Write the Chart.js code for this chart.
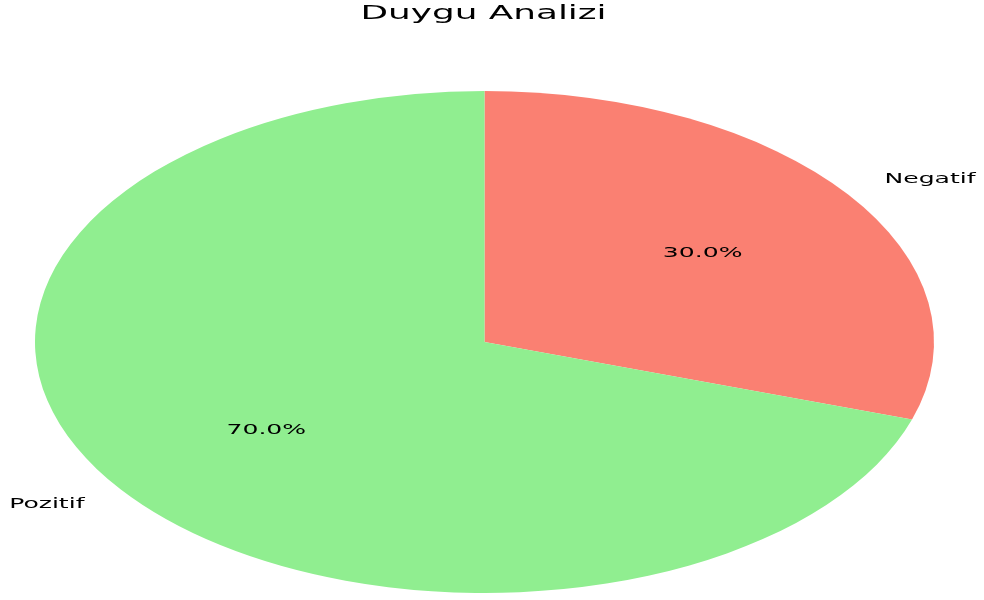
<!DOCTYPE html>
<html>
<head>
<meta charset="utf-8">
<script src="https://cdn.jsdelivr.net/npm/chart.js@4/dist/chart.umd.min.js"></script>
<style>
  html, body { margin: 0; padding: 0; background: #fff; }
  #wrap { width: 984px; height: 600px; position: relative; }
</style>
</head>
<body>
<div id="wrap"><canvas id="pie"></canvas></div>
<script>
"use strict";
// sentiment split, drawn clockwise from 12 o'clock
const LABELS = ["Negatif", "Pozitif"];
const VALUES = [30, 70];
const COLORS = ["#fa8072", "#90ee90"];
const TITLE = "Duygu Analizi";

const FONT = '"DejaVu Sans", Verdana, sans-serif';
const STRETCH_X = 449.5 / 251; // reference pie (and its text) is squashed into an ellipse

function stretchedText(ctx, str, x, y, align, size) {
  ctx.save();
  ctx.font = size + "px " + FONT;
  ctx.fillStyle = "#000";
  ctx.textBaseline = "middle";
  const w = ctx.measureText(str).width * STRETCH_X;
  let left = x;
  if (align === "center") left = x - w / 2;
  else if (align === "right") left = x - w;
  ctx.translate(left, y);
  ctx.scale(STRETCH_X, 1);
  ctx.textAlign = "left";
  ctx.fillText(str, 0, 0);
  ctx.restore();
}

const ellipsePlugin = {
  id: "ellipse",
  beforeDatasetsDraw(chart) {
    const arc = chart.getDatasetMeta(0).data[0];
    const ctx = chart.ctx;
    ctx.save();
    ctx.translate(arc.x, arc.y);
    ctx.scale(STRETCH_X, 1);
    ctx.translate(-arc.x, -arc.y);
  },
  afterDatasetsDraw(chart) {
    chart.ctx.restore();
  },
  afterDraw(chart) {
    const ctx = chart.ctx;
    const meta = chart.getDatasetMeta(0);
    const total = VALUES.reduce((a, b) => a + b, 0);
    stretchedText(ctx, TITLE, 483.5, 14, "center", 20);
    meta.data.forEach((arc, i) => {
      const mid = (arc.startAngle + arc.endAngle) / 2;
      const r = arc.outerRadius;
      const cx = arc.x, cy = arc.y;
      const px = cx + Math.cos(mid) * r * 0.6 * STRETCH_X;
      const py = cy + Math.sin(mid) * r * 0.6;
      stretchedText(ctx, (VALUES[i] / total * 100).toFixed(1) + "%", px, py, "center", 14);
      const lx = cx + Math.cos(mid) * r * 1.1 * STRETCH_X;
      const ly = cy + Math.sin(mid) * r * 1.1;
      stretchedText(ctx, LABELS[i], lx, ly, Math.cos(mid) >= 0 ? "left" : "right", 14);
    });
  },
};

new Chart(document.getElementById("pie").getContext("2d"), {
  type: "pie",
  data: {
    labels: LABELS,
    datasets: [{
      data: VALUES,
      backgroundColor: COLORS,
      borderWidth: 0,
      hoverOffset: 0,
    }],
  },
  options: {
    responsive: true,
    maintainAspectRatio: false,
    animation: false,
    layout: { padding: { top: 91, bottom: 7, left: 184, right: 199 } },
    plugins: {
      legend: { display: false },
      title: { display: false },
      tooltip: { enabled: false },
    },
  },
  plugins: [ellipsePlugin],
});
</script>
</body>
</html>
